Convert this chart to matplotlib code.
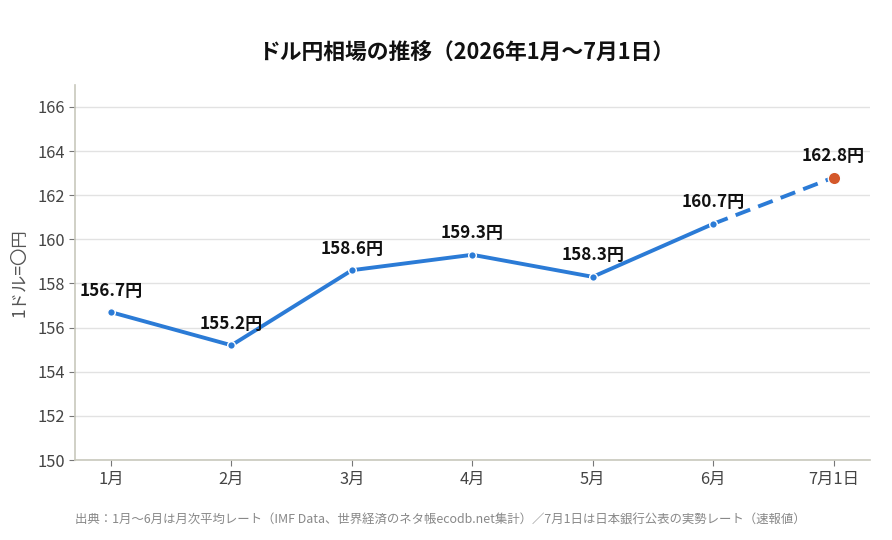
import matplotlib
matplotlib.use("Agg")
import matplotlib.pyplot as plt

plt.rcParams['font.family'] = ['Noto Sans CJK JP', 'DejaVu Sans']

# data
labels = ["1月", "2月", "3月", "4月", "5月", "6月", "7月1日"]
rates = [156.7, 155.2, 158.6, 159.3, 158.3, 160.7, 162.8]
yticks = [150, 152, 154, 156, 158, 160, 162, 164, 166]

blue = "#2b7bd6"
orange = "#d4582a"
axis_gray = "#c8c8bc"

fig = plt.figure(figsize=(8.92, 5.4), dpi=100)
ax = fig.add_axes([0.084, 0.148, 0.891, 0.695])

x = list(range(len(labels)))

# monthly averages: solid line
ax.plot(x[:6], rates[:6], color=blue, linewidth=2.8, marker='o', markersize=5.5,
        markeredgecolor='white', markeredgewidth=1.0, zorder=3)
# last segment to 7/1 spot rate: dashed
ax.plot(x[5:], rates[5:], color=blue, linewidth=2.8, linestyle=(0, (4, 2.2)), zorder=2)
ax.plot(x[6], rates[6], 'o', color=orange, markersize=9, markeredgecolor='white',
        markeredgewidth=1.0, zorder=4)

for xi, v in zip(x, rates):
    ax.annotate(f"{v:.1f}円", (xi, v), xytext=(0, 9), textcoords='offset points',
                ha='center', va='bottom', fontsize=12.3, fontweight='bold', color='#111111')

ax.set_xlim(-0.3, 6.3)
ax.set_ylim(150, 167)
ax.set_yticks(yticks)
ax.set_xticks(x)
ax.set_xticklabels(labels)
ax.tick_params(axis='both', labelsize=11.8, colors='#444444', length=4, color='#777777')
ax.set_ylabel("1ドル=〇円", fontsize=12.5, color='#555555', labelpad=6)

ax.grid(axis='y', color='#e2e2e2', linewidth=1)
ax.set_axisbelow(True)
for s in ['top', 'right']:
    ax.spines[s].set_visible(False)
for s in ['left', 'bottom']:
    ax.spines[s].set_color(axis_gray)
    ax.spines[s].set_linewidth(1.2)

fig.text(0.522, 0.902, "ドル円相場の推移（2026年1月〜7月1日）", ha='center', va='center',
         fontsize=15.7, fontweight='bold', color='#111111')
fig.text(0.084, 0.037, "出典：1月〜6月は月次平均レート（IMF Data、世界経済のネタ帳ecodb.net集計）／7月1日は日本銀行公表の実勢レート（速報値）",
         ha='left', va='center', fontsize=8.95, color='#888888')

fig.savefig("out.png", dpi=100)
